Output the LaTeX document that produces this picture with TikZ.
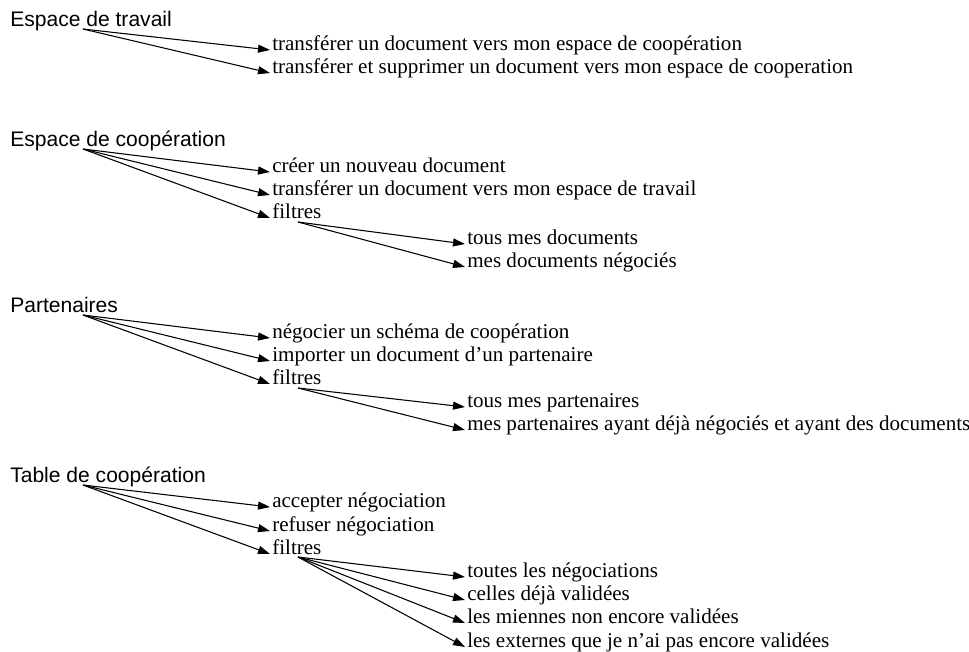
\documentclass[tikz,border=0pt]{standalone}
\usepackage{fontspec}
\setmainfont{Liberation Serif}
\setsansfont{Liberation Sans}
\usetikzlibrary{arrows.meta}

\begin{document}
\begin{tikzpicture}[x=0.75pt,y=-0.75pt,
  titre/.style={anchor=base west, inner sep=0pt, font=\sffamily\fontsize{15.8}{19}\selectfont},
  choix/.style={anchor=base west, inner xsep=1.5pt, inner ysep=0pt, font=\fontsize{15.8}{19}\selectfont},
  fleche/.style={-{Triangle[length=9pt,width=6pt]}, line width=0.8pt}]
\useasboundingbox (0,0) rectangle (969,651);
\begin{scope}

  % espace de travail
  \node[titre] (travail) at (10,26) {Espace de travail};
  \coordinate (dtravail) at ([shift={(73,3)}]travail.base west);
  \node[choix] (t1) at (270,50) {transférer un document vers mon espace de coopération};
  \node[choix] (t2) at (270,73) {transférer et supprimer un document vers mon espace de cooperation};
  \draw[fleche] (dtravail) -- (t1.base west);
  \draw[fleche] (dtravail) -- (t2.base west);

  % espace de cooperation
  \node[titre] (coop) at (10,146) {Espace de coopération};
  \coordinate (dcoop) at ([shift={(73,3)}]coop.base west);
  \node[choix] (c1) at (270,172) {créer un nouveau document};
  \node[choix] (c2) at (270,195) {transférer un document vers mon espace de travail};
  \node[choix] (c3) at (270,218) {filtres};
  \draw[fleche] (dcoop) -- (c1.base west);
  \draw[fleche] (dcoop) -- (c2.base west);
  \draw[fleche] (dcoop) -- (c3.base west);
  \coordinate (dc3) at ([shift={(28,4)}]c3.base west);
  \node[choix] (c31) at (465,244) {tous mes documents};
  \node[choix] (c32) at (465,267) {mes documents négociés};
  \draw[fleche] (dc3) -- (c31.base west);
  \draw[fleche] (dc3) -- (c32.base west);

  % partenaires
  \node[titre] (part) at (10,312) {Partenaires};
  \coordinate (dpart) at ([shift={(73,3)}]part.base west);
  \node[choix] (p1) at (270,338) {négocier un schéma de coopération};
  \node[choix] (p2) at (270,361) {importer un document d'un partenaire};
  \node[choix] (p3) at (270,384) {filtres};
  \draw[fleche] (dpart) -- (p1.base west);
  \draw[fleche] (dpart) -- (p2.base west);
  \draw[fleche] (dpart) -- (p3.base west);
  \coordinate (dp3) at ([shift={(28,4)}]p3.base west);
  \node[choix] (p31) at (465,407) {tous mes partenaires};
  \node[choix] (p32) at (465,430) {mes partenaires ayant déjà négociés et ayant des documents};
  \draw[fleche] (dp3) -- (p31.base west);
  \draw[fleche] (dp3) -- (p32.base west);

  % table de cooperation
  \node[titre] (table) at (10,482) {Table de coopération};
  \coordinate (dtable) at ([shift={(73,3)}]table.base west);
  \node[choix] (a1) at (270,507) {accepter négociation};
  \node[choix] (a2) at (270,531) {refuser négociation};
  \node[choix] (a3) at (270,554) {filtres};
  \draw[fleche] (dtable) -- (a1.base west);
  \draw[fleche] (dtable) -- (a2.base west);
  \draw[fleche] (dtable) -- (a3.base west);
  \coordinate (da3) at ([shift={(28,3)}]a3.base west);
  \node[choix] (a31) at (465,577) {toutes les négociations};
  \node[choix] (a32) at (465,600) {celles déjà validées};
  \node[choix] (a33) at (465,623) {les miennes non encore validées};
  \node[choix] (a34) at (465,647) {les externes que je n'ai pas encore validées};
  \draw[fleche] (da3) -- (a31.base west);
  \draw[fleche] (da3) -- (a32.base west);
  \draw[fleche] (da3) -- (a33.base west);
  \draw[fleche] (da3) -- (a34.base west);

\end{scope}
\end{tikzpicture}
\end{document}
